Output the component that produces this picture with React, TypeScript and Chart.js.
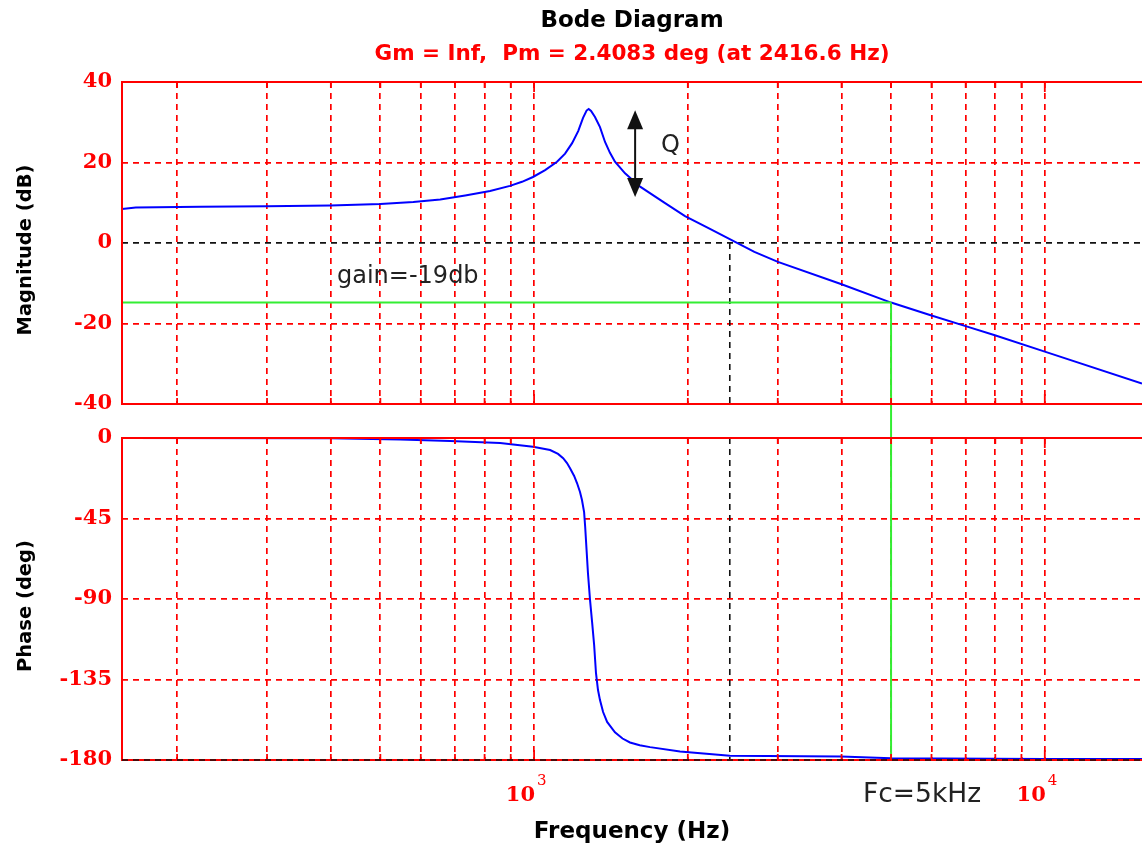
import React, { useEffect, useRef } from 'react';
import { Chart, registerables } from 'chart.js';

Chart.register(...registerables);

// ---------------- data ----------------
const MAG_FREQ_HZ = [156, 166, 222, 300, 399, 500, 580, 655, 733, 820, 897, 947, 995, 1051, 1109, 1150, 1187, 1220, 1247, 1267, 1279, 1293, 1316, 1346, 1377, 1408, 1440, 1507, 1613, 1805, 1975, 2210, 2700, 3002, 3988, 5000, 5957, 6973, 7984, 10000, 15500];
const MAG_DB = [8.45, 8.8, 9.0, 9.1, 9.3, 9.7, 10.2, 10.8, 11.8, 12.9, 14.2, 15.2, 16.4, 18.1, 20.2, 22.2, 24.8, 27.8, 31.1, 32.9, 33.3, 32.8, 31.3, 28.8, 25.1, 22.4, 20.2, 17.3, 14.0, 9.9, 6.7, 3.5, -2.2, -4.7, -10.2, -14.8, -17.9, -20.6, -22.9, -27.0, -34.9];

const PHASE_FREQ_HZ = [156, 399, 547, 685, 858, 995, 1075, 1114, 1140, 1160, 1176, 1198, 1214, 1230, 1241, 1253, 1259, 1267, 1275, 1287, 1299, 1311, 1322, 1334, 1346, 1365, 1390, 1440, 1490, 1541, 1610, 1687, 1931, 2417, 3988, 5000, 10000, 15500];
const PHASE_DEG = [0, -0.2, -0.8, -1.7, -2.8, -4.9, -6.7, -8.9, -11.3, -14.0, -16.9, -21.2, -25.3, -30.2, -34.7, -41.4, -49.6, -62.6, -75.6, -90.6, -102.9, -115.7, -131.5, -140.9, -146.5, -153.2, -158.7, -164.5, -168.0, -170.2, -171.8, -172.8, -175.3, -177.6, -178.0, -179.0, -179.4, -179.5];

const X_GRID_HZ = [200, 300, 400, 500, 600, 700, 800, 900, 1000, 2000, 3000, 4000, 5000, 6000, 7000, 8000, 9000, 10000];
const X_DECADE_HZ = [1000, 10000];
const X_DECADE_EXP = ['3', '4'];
const X_MIN_HZ = 156;
const X_MAX_HZ = 15500;

const MAG_MIN = -40, MAG_MAX = 40, MAG_STEP = 20;
const PHASE_MIN = -180, PHASE_MAX = 0, PHASE_STEP = 45;

const CROSSOVER_HZ = 2416.6;
const FC_HZ = 5000;
const GAIN_LINE_DB = -14.8;
const Q_ARROW_HZ = 1577;
const Q_ARROW_TOP_DB = 33.0;
const Q_ARROW_BOTTOM_DB = 11.4;

const TITLE = 'Bode Diagram';
const SUBTITLE = 'Gm = Inf,  Pm = 2.4083 deg (at 2416.6 Hz)';
const MAG_TITLE = 'Magnitude (dB)';
const PHASE_TITLE = 'Phase (deg)';
const X_TITLE = 'Frequency (Hz)';
const GAIN_TEXT = 'gain=-19db';
const Q_TEXT = 'Q';
const FC_TEXT = 'Fc=5kHz';

// ---------------- layout / style ----------------
const W = 1142, H = 843;
const AXIS_W = 122;
const MAG_TOP = 82, MAG_BOTTOM = 404;
const PHASE_TOP = 438, PHASE_BOTTOM = 760;
const RED = '#ff0000';
const BLUE = '#0000ff';
const GREEN = '#33ee33';
const BLACK = '#111111';
const DASH = [6, 5];
const TICK_FONT = { family: 'DejaVu Serif', size: 21, weight: 'bold' as const };

function seg(ctx: CanvasRenderingContext2D, x1: number, y1: number, x2: number, y2: number, color: string, width: number, dash: number[] = []) {
  ctx.save();
  ctx.strokeStyle = color;
  ctx.lineWidth = width;
  ctx.setLineDash(dash);
  ctx.beginPath();
  ctx.moveTo(x1, y1);
  ctx.lineTo(x2, y2);
  ctx.stroke();
  ctx.restore();
}

function txt(ctx: CanvasRenderingContext2D, s: string, x: number, y: number, font: string, color: string, align: CanvasTextAlign = 'left', rot = 0) {
  ctx.save();
  ctx.translate(x, y);
  if (rot) ctx.rotate(rot);
  ctx.font = font;
  ctx.fillStyle = color;
  ctx.textAlign = align;
  ctx.textBaseline = 'alphabetic';
  ctx.fillText(s, 0, 0);
  ctx.restore();
}

function drawFrameAndTicks(chart: any) {
  const { ctx, chartArea: a, scales } = chart;
  const x = scales.x;
  seg(ctx, a.left, a.top, a.right + 2, a.top, RED, 2);
  seg(ctx, a.left, a.bottom, a.right + 2, a.bottom, RED, 2);
  seg(ctx, a.left, a.top - 1, a.left, a.bottom + 1, RED, 2);
  X_GRID_HZ.forEach((v) => {
    const px = x.getPixelForValue(v);
    const len = X_DECADE_HZ.includes(v) ? 10 : 6;
    seg(ctx, px, a.top, px, a.top + len, RED, 1.8);
    seg(ctx, px, a.bottom, px, a.bottom - len, RED, 1.8);
  });
}

const magPlugin = {
  id: 'magExtras',
  afterDatasetsDraw(chart: any) {
    const { ctx, chartArea: a, scales } = chart;
    const x = scales.x, y = scales.y;
    const xc = x.getPixelForValue(CROSSOVER_HZ);
    seg(ctx, xc, y.getPixelForValue(0), xc, a.bottom, BLACK, 1.6, DASH);
    const xf = x.getPixelForValue(FC_HZ);
    const yg = y.getPixelForValue(GAIN_LINE_DB);
    seg(ctx, a.left, yg, xf, yg, GREEN, 2);
    seg(ctx, xf, yg, xf, PHASE_TOP, GREEN, 2);

    // Q arrow
    const ax = x.getPixelForValue(Q_ARROW_HZ);
    const yt = y.getPixelForValue(Q_ARROW_TOP_DB);
    const yb = y.getPixelForValue(Q_ARROW_BOTTOM_DB);
    seg(ctx, ax, yt + 12, ax, yb - 12, BLACK, 2);
    ctx.save();
    ctx.fillStyle = BLACK;
    ctx.beginPath();
    ctx.moveTo(ax, yt);
    ctx.lineTo(ax - 8, yt + 19);
    ctx.lineTo(ax + 8, yt + 19);
    ctx.closePath();
    ctx.fill();
    ctx.beginPath();
    ctx.moveTo(ax, yb);
    ctx.lineTo(ax - 8, yb - 19);
    ctx.lineTo(ax + 8, yb - 19);
    ctx.closePath();
    ctx.fill();
    ctx.restore();

    drawFrameAndTicks(chart);

    txt(ctx, TITLE, 632, 27, 'bold 23px "DejaVu Sans"', '#000', 'center');
    txt(ctx, SUBTITLE, 632, 60, 'bold 21.5px "DejaVu Sans"', RED, 'center');
    txt(ctx, MAG_TITLE, 31, 250, 'bold 19.5px "DejaVu Sans"', '#000', 'center', -Math.PI / 2);
    txt(ctx, GAIN_TEXT, 337, 283, '24px "DejaVu Sans"', '#222');
    txt(ctx, Q_TEXT, 661, 152, '24px "DejaVu Sans"', '#222');
  },
};

const phasePlugin = {
  id: 'phaseExtras',
  afterDatasetsDraw(chart: any) {
    const { ctx, chartArea: a, scales } = chart;
    const x = scales.x;
    const xc = x.getPixelForValue(CROSSOVER_HZ);
    seg(ctx, xc, a.top, xc, a.bottom, BLACK, 1.6, DASH);
    const xf = x.getPixelForValue(FC_HZ);
    seg(ctx, xf, a.top, xf, a.bottom, GREEN, 2);
    drawFrameAndTicks(chart);
    seg(ctx, a.left, a.bottom, a.right + 2, a.bottom, BLACK, 1.4, DASH);

    X_DECADE_HZ.forEach((v, i) => {
      const px = x.getPixelForValue(v);
      txt(ctx, '10', px + 1, 801, 'bold 21px "DejaVu Serif"', RED, 'right');
      txt(ctx, X_DECADE_EXP[i], px + 3, 785, '15px "DejaVu Serif"', RED, 'left');
    });
    txt(ctx, X_TITLE, 632, 838, 'bold 23px "DejaVu Sans"', '#000', 'center');
    txt(ctx, PHASE_TITLE, 31, 606, 'bold 19.5px "DejaVu Sans"', '#000', 'center', -Math.PI / 2);
    txt(ctx, FC_TEXT, xf - 28, 802, '26.5px "DejaVu Sans"', '#222');
  },
};

function makeOptions(top: number, bottom: number, yMin: number, yMax: number, step: number, zeroBlack: boolean) {
  const dashOpts = { display: false, dash: DASH };
  return {
    animation: false as const,
    responsive: false,
    devicePixelRatio: 1,
    events: [] as any[],
    layout: { padding: { top, bottom: H - bottom, left: 0, right: 0 } },
    plugins: { legend: { display: false }, tooltip: { enabled: false }, title: { display: false } },
    scales: {
      x: {
        type: 'logarithmic' as const,
        min: X_MIN_HZ,
        max: X_MAX_HZ,
        bounds: 'data' as const,
        afterBuildTicks: (s: any) => {
          s.ticks = X_GRID_HZ.map((v) => ({ value: v }));
        },
        afterFit: (s: any) => {
          s.height = 0;
        },
        ticks: { display: false },
        grid: { color: RED, lineWidth: 1.7, drawTicks: false, borderDash: DASH },
        border: dashOpts,
      },
      y: {
        min: yMin,
        max: yMax,
        afterFit: (s: any) => {
          s.width = AXIS_W;
        },
        ticks: { stepSize: step, color: RED, padding: 10, font: TICK_FONT, callback: (v: any) => String(v) },
        grid: {
          color: (c: any) => {
            const v = c.tick ? c.tick.value : null;
            if (v === yMin || v === yMax) return 'rgba(0,0,0,0)';
            if (zeroBlack && v === 0) return BLACK;
            return RED;
          },
          lineWidth: 1.7,
          drawTicks: false,
          borderDash: DASH,
        },
        border: dashOpts,
      },
    },
  };
}

export default function App() {
  const magRef = useRef<HTMLCanvasElement>(null);
  const phRef = useRef<HTMLCanvasElement>(null);

  useEffect(() => {
    const mag = new Chart(magRef.current as HTMLCanvasElement, {
      type: 'line',
      data: {
        datasets: [
          {
            data: MAG_FREQ_HZ.map((f, i) => ({ x: f, y: MAG_DB[i] })),
            borderColor: BLUE,
            borderWidth: 2,
            pointRadius: 0,
            fill: false,
            tension: 0,
          },
        ],
      },
      options: makeOptions(MAG_TOP, MAG_BOTTOM, MAG_MIN, MAG_MAX, MAG_STEP, true) as any,
      plugins: [magPlugin],
    });
    const ph = new Chart(phRef.current as HTMLCanvasElement, {
      type: 'line',
      data: {
        datasets: [
          {
            data: PHASE_FREQ_HZ.map((f, i) => ({ x: f, y: PHASE_DEG[i] })),
            borderColor: BLUE,
            borderWidth: 2,
            pointRadius: 0,
            fill: false,
            tension: 0,
          },
        ],
      },
      options: makeOptions(PHASE_TOP, PHASE_BOTTOM, PHASE_MIN, PHASE_MAX, PHASE_STEP, false) as any,
      plugins: [phasePlugin],
    });
    return () => {
      mag.destroy();
      ph.destroy();
    };
  }, []);

  return (
    <div style={{ position: 'absolute', left: 0, top: 0, width: W, height: H, background: '#fff', overflow: 'hidden' }}>
      <canvas ref={magRef} width={W} height={H} style={{ position: 'absolute', left: 0, top: 0 }} />
      <canvas ref={phRef} width={W} height={H} style={{ position: 'absolute', left: 0, top: 0 }} />
    </div>
  );
}
